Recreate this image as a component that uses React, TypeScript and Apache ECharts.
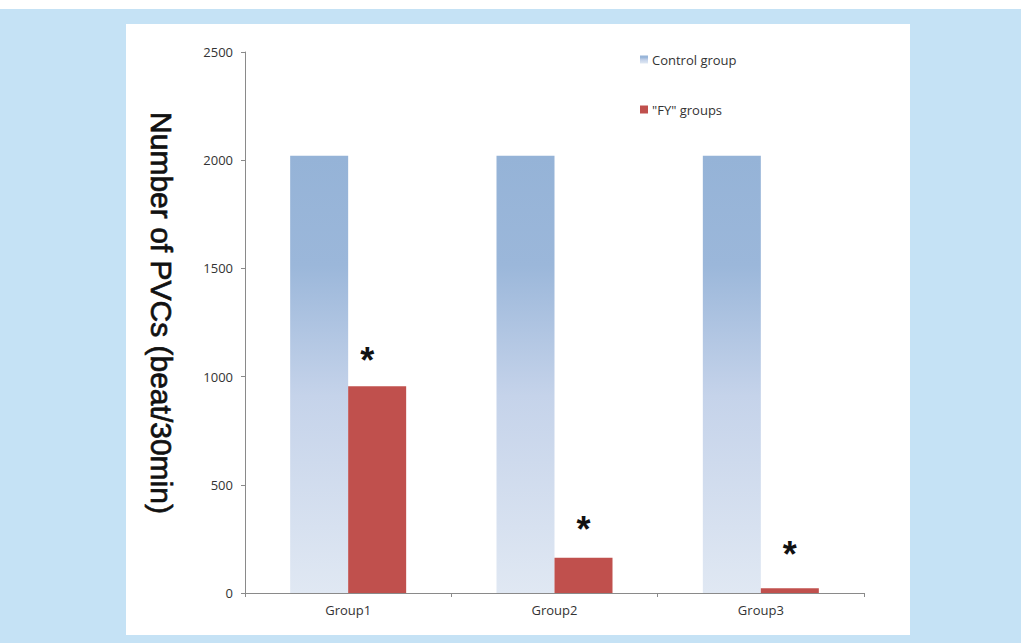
import React, { useEffect, useRef } from "react";
import * as echarts from "echarts";

const categories = ["Group1", "Group2", "Group3"];
const controlValues = [2020, 2020, 2020];
const fyValues = [955, 163, 22];
const yTicks = [0, 500, 1000, 1500, 2000, 2500];
const seriesNames = ["Control group", "\"FY\" groups"];
const yTitle = "Number of PVCs (beat/30min)";
const markText = "*";

const starOffsets = [[-10, -8], [0, -10], [0, -16]];

export default function App() {
  const ref = useRef<HTMLDivElement>(null);
  useEffect(() => {
    document.body.style.margin = "0";
    const chart = echarts.init(ref.current!, null, { renderer: "svg" });
    const axisFont = "'Open Sans', 'Noto Sans', sans-serif";
    chart.setOption({
      animation: false,
      backgroundColor: "#ffffff",
      graphic: [
        { type: "rect", z: -10, silent: true, shape: { x: 0, y: 9, width: 1021, height: 634 }, style: { fill: "#c5e2f5" } },
        { type: "rect", z: -9, silent: true, shape: { x: 126, y: 24, width: 784, height: 611 }, style: { fill: "#ffffff" } },
        {
          type: "text",
          x: 161,
          y: 313,
          rotation: -Math.PI / 2,
          style: {
            text: yTitle,
            fontFamily: "'Liberation Sans', Arial, sans-serif",
            fontSize: 30,
            fontWeight: "normal",
            fill: "#111",
            stroke: "#111",
            lineWidth: 0.7,
            align: "center",
            verticalAlign: "middle",
          },
        },
      ],
      legend: {
        orient: "vertical",
        left: 635,
        top: 48,
        itemWidth: 8,
        itemHeight: 8,
        itemGap: 37,
        icon: "rect",
        textStyle: { fontFamily: axisFont, fontSize: 13, color: "#333", padding: [0, 0, 0, -1] },
        data: seriesNames,
      },
      grid: { left: 245, right: 157, top: 52, bottom: 50, containLabel: false },
      xAxis: {
        type: "category",
        data: categories,
        axisLine: { lineStyle: { color: "#8a8a8a", width: 1 } },
        axisTick: { show: true, length: 4, lineStyle: { color: "#8a8a8a" } },
        axisLabel: { fontFamily: axisFont, fontSize: 13, color: "#333", margin: 10 },
      },
      yAxis: {
        type: "value",
        min: 0,
        max: yTicks[yTicks.length - 1],
        interval: yTicks[1] - yTicks[0],
        splitLine: { show: false },
        axisLine: { show: true, lineStyle: { color: "#8a8a8a", width: 1 } },
        axisTick: { show: true, length: 4, lineStyle: { color: "#8a8a8a" } },
        axisLabel: { fontFamily: axisFont, fontSize: 13, color: "#333", margin: 12, formatter: (v: number) => String(v) },
      },
      series: [
        {
          name: seriesNames[0],
          type: "bar",
          barWidth: 58,
          barGap: "0%",
          data: controlValues,
          itemStyle: {
            color: new echarts.graphic.LinearGradient(0, 0, 0, 1, [
              { offset: 0, color: "#95b3d7" },
              { offset: 0.25, color: "#9bb7da" },
              { offset: 0.55, color: "#c5d3ea" },
              { offset: 1, color: "#e0e8f3" },
            ]),
          },
        },
        {
          name: seriesNames[1],
          type: "bar",
          barWidth: 58,
          barGap: "0%",
          data: fyValues.map((v, i) => ({
            value: v,
            label: {
              show: true,
              position: "top",
              distance: 0,
              formatter: markText,
              offset: starOffsets[i],
              fontSize: 36,
              fontWeight: "bold",
              fontFamily: "'Liberation Sans', Arial, sans-serif",
              color: "#111",
            },
          })),
          itemStyle: { color: "#c0504d" },
        },
      ],
    });
    return () => chart.dispose();
  }, []);
  return <div ref={ref} style={{ position: "absolute", left: 0, top: 0, width: 1021, height: 643 }} />;
}
